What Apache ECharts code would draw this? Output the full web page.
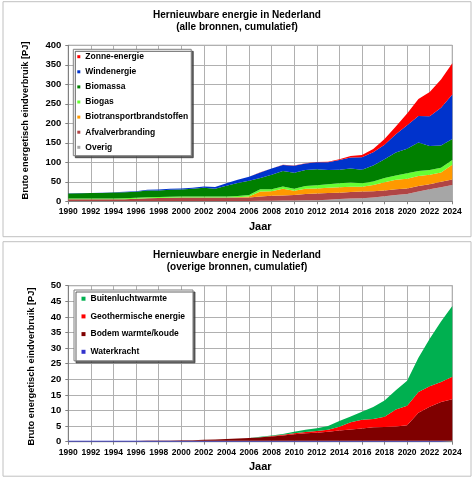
<!DOCTYPE html>
<html><head><meta charset="utf-8">
<script src="https://cdn.jsdelivr.net/npm/echarts@6/dist/echarts.min.js"></script>
<style>html,body{margin:0;padding:0;background:#fff}#c{width:474px;height:481px}</style>
</head><body><div id="c"></div>
<script>
const years = ['1990','1991','1992','1993','1994','1995','1996','1997','1998','1999','2000','2001','2002','2003','2004','2005','2006','2007','2008','2009','2010','2011','2012','2013','2014','2015','2016','2017','2018','2019','2020','2021','2022','2023','2024'];

// Top chart (alle bronnen), PJ
const overig   = [0.5,0.5,0.5,0.5,0.5,0.5,0.5,0.5,0.5,0.5, 0.6,0.6,0.7,0.7,0.8,0.9,1,1.2,1.5,1.8, 2,2.5,3,4,6,7,8,10,13,16, 19,25,31,36,42];
const afval    = [4.5,4.5,4.5,4.5,4.5,5,6,7.5,8,8.5, 8.9,8.9,8.8,8.8,8.7,8.6,9,10.8,12.5,13.2, 14,16.5,17,17,16,17,17,16,15,15, 14,14,13,14,14];
const biotrans = [0,0,0,0,0,0,0,0,0,0, 0,0,0,0,0.2,1,2.5,13,12,17, 11,13,13,14,14,13,12,16,21,24, 25,26,24,24,38];
const biogas   = [2.5,2.5,2.5,2.5,2.5,2.5,2.5,2.5,2.5,2.5, 2.5,2.5,2.5,2.5,2.8,3,3.5,6,5,6, 5,7,8,9,10,11,9,9,11,11, 14,13,12,12,12];
const biomassa = [12.5,13,13.5,14,15,15.5,15.5,17,17,18, 18.5,20,22.5,20,27.5,33.5,37,29,37,40, 41,41,41,36,35,36,35,41,48,59, 63,73,62,57,54];
const wind     = [0.5,0.5,0.5,0.5,0.5,1,1.5,2,2,2.5, 2.5,3,3.5,4.5,6,8,10,14,16,15, 18,17,18,20,25,28,32,34,37,47, 60,68,76,97,114];
const zon      = [0,0,0,0,0,0,0,0,0,0, 0,0,0,0,0,0.1,0.2,0.3,0.3,0.4, 0.5,0.8,1,1.5,2,4,6,8,15,20, 30,43,62,72,80];

// Bottom chart (overige bronnen), PJ
const water  = [0.3,0.3,0.3,0.3,0.3,0.3,0.3,0.3,0.3,0.3, 0.3,0.3,0.3,0.3,0.3,0.3,0.3,0.3,0.3,0.3, 0.3,0.3,0.3,0.3,0.3,0.3,0.3,0.3,0.3,0.3, 0.3,0.3,0.3,0.3,0.3];
const bodem  = [0,0,0,0,0,0,0.02,0.05,0.08,0.1, 0.15,0.2,0.3,0.4,0.55,0.7,0.9,1.1,1.4,1.7, 2.1,2.4,2.6,2.9,3.3,3.6,3.9,4.3,4.4,4.6, 5.0,9.0,10.9,12.4,13.3];
const geo    = [0,0,0,0,0,0,0,0,0,0, 0,0,0,0,0,0,0,0.05,0.1,0.2, 0.3,0.4,0.5,0.6,1.2,2.3,2.8,2.7,3.3,5.4, 6.2,6.6,6.6,6.4,7.2];
const buiten = [0,0,0,0,0,0,0,0,0,0, 0,0,0,0,0,0,0,0.1,0.2,0.3, 0.5,0.7,0.9,1.2,1.8,1.9,2.6,3.8,5.2,6.2, 8.0,11.0,15.2,19.4,22.7];

const FONT = "'Liberation Sans', Arial, sans-serif";
const chart = echarts.init(document.getElementById('c'), null, {renderer: 'canvas'});

function area(name, data, color, idx, stack) {
  return {
    name, type: 'line', data, stack, xAxisIndex: idx, yAxisIndex: idx,
    color, symbol: 'none', showSymbol: false, smooth: false,
    lineStyle: {width: 0, opacity: 0},
    areaStyle: {color, opacity: 1},
    emphasis: {disabled: true}, silent: true, animation: false
  };
}
function xAx(idx) {
  return {
    type: 'category', gridIndex: idx, data: years, boundaryGap: false,
    axisLine: {show: true, lineStyle: {color: '#808080'}},
    axisTick: {show: true, interval: 1, length: 3, lineStyle: {color: '#808080'}},
    axisLabel: {interval: 1, fontSize: 8.5, fontWeight: 'bold', color: '#000', fontFamily: FONT, margin: 6, hideOverlap: false},
    splitLine: {show: true, interval: 1, lineStyle: {color: '#b0b0b0', width: 1}}
  };
}
function yAx(idx, max, interval) {
  return {
    type: 'value', gridIndex: idx, min: 0, max, interval,
    axisLine: {show: true, lineStyle: {color: '#808080'}},
    axisTick: {show: true, length: 3, lineStyle: {color: '#808080'}},
    axisLabel: {fontSize: 9.5, fontWeight: 'bold', color: '#000', fontFamily: FONT, margin: 7},
    splitLine: {show: true, lineStyle: {color: '#b0b0b0', width: 1}}
  };
}
const legendBase = {
  orient: 'vertical', icon: 'rect', backgroundColor: '#fff',
  borderColor: '#808080', borderWidth: 1,
  shadowColor: 'rgba(60,60,60,0.8)', shadowOffsetX: 2, shadowOffsetY: 2, shadowBlur: 0,
  textStyle: {fontSize: 8.5, fontWeight: 'bold', color: '#000', fontFamily: FONT, lineHeight: 10},
  selectedMode: false, inactiveColor: '#ccc'
};

chart.setOption({
  animation: false,
  backgroundColor: '#fff',
  textStyle: {fontFamily: FONT},
  grid: [
    {left: 68.3, top: 45.3, width: 384, height: 156, show: true, borderColor: '#808080', borderWidth: 1, backgroundColor: 'transparent', outerBoundsMode: 'none', containLabel: false},
    {left: 68.3, top: 285.7, width: 384, height: 156, show: true, borderColor: '#808080', borderWidth: 1, backgroundColor: 'transparent', outerBoundsMode: 'none', containLabel: false}
  ],
  xAxis: [xAx(0), xAx(1)],
  yAxis: [yAx(0, 400, 50), yAx(1, 50, 5)],
  legend: [
    Object.assign({}, legendBase, {
      left: 73.3, top: 49.3, padding: [2.4, 3, 3.4, 4],
      itemWidth: 3, itemHeight: 3, itemGap: 5.1,
      data: ['Zonne-energie','Windenergie','Biomassa','Biogas','Biotransportbrandstoffen','Afvalverbranding','Overig']
    }),
    Object.assign({}, legendBase, {
      left: 74, top: 290, padding: [3.7, 8, 4, 7.5],
      itemWidth: 4, itemHeight: 4, itemGap: 7.7,
      data: ['Buitenluchtwarmte','Geothermische energie','Bodem warmte/koude','Waterkracht']
    })
  ],
  series: [
    area('Overig', overig, '#a6a6a6', 0, 'a'),
    area('Afvalverbranding', afval, '#b04545', 0, 'a'),
    area('Biotransportbrandstoffen', biotrans, '#ff9900', 0, 'a'),
    area('Biogas', biogas, '#66ff33', 0, 'a'),
    area('Biomassa', biomassa, '#008000', 0, 'a'),
    area('Windenergie', wind, '#0033cc', 0, 'a'),
    area('Zonne-energie', zon, '#ff0000', 0, 'a'),
    area('Waterkracht', water, '#3333cc', 1, 'b'),
    area('Bodem warmte/koude', bodem, '#7f0000', 1, 'b'),
    area('Geothermische energie', geo, '#ff0000', 1, 'b'),
    area('Buitenluchtwarmte', buiten, '#00b050', 1, 'b')
  ],
  graphic: [
    {type: 'rect', shape: {x: 3, y: 1.7, width: 468, height: 235}, style: {fill: 'none', stroke: '#c0c0c0', lineWidth: 1}, silent: true, z: -1},
    {type: 'rect', shape: {x: 3, y: 241.7, width: 468, height: 234.5}, style: {fill: 'none', stroke: '#c0c0c0', lineWidth: 1}, silent: true, z: -1},
    {type: 'text', x: 237, y: 15, style: {text: 'Hernieuwbare energie in Nederland', font: 'bold 10px ' + FONT, fill: '#000', textAlign: 'center', textVerticalAlign: 'middle'}},
    {type: 'text', x: 237, y: 27, style: {text: '(alle bronnen, cumulatief)', font: 'bold 10px ' + FONT, fill: '#000', textAlign: 'center', textVerticalAlign: 'middle'}},
    {type: 'text', x: 237, y: 255, style: {text: 'Hernieuwbare energie in Nederland', font: 'bold 10px ' + FONT, fill: '#000', textAlign: 'center', textVerticalAlign: 'middle'}},
    {type: 'text', x: 237, y: 267, style: {text: '(overige bronnen, cumulatief)', font: 'bold 10px ' + FONT, fill: '#000', textAlign: 'center', textVerticalAlign: 'middle'}},
    {type: 'text', x: 25, y: 120.5, rotation: Math.PI / 2, style: {text: 'Bruto energetisch eindverbruik [PJ]', font: 'bold 9.3px ' + FONT, fill: '#000', textAlign: 'center', textVerticalAlign: 'middle'}},
    {type: 'text', x: 31.5, y: 366.5, rotation: Math.PI / 2, style: {text: 'Bruto energetisch eindverbruik [PJ]', font: 'bold 9.3px ' + FONT, fill: '#000', textAlign: 'center', textVerticalAlign: 'middle'}},
    {type: 'text', x: 260.3, y: 226.5, style: {text: 'Jaar', font: 'bold 11px ' + FONT, fill: '#000', textAlign: 'center', textVerticalAlign: 'middle'}},
    {type: 'text', x: 260.3, y: 466.5, style: {text: 'Jaar', font: 'bold 11px ' + FONT, fill: '#000', textAlign: 'center', textVerticalAlign: 'middle'}}
  ]
});
</script>
</body></html>
